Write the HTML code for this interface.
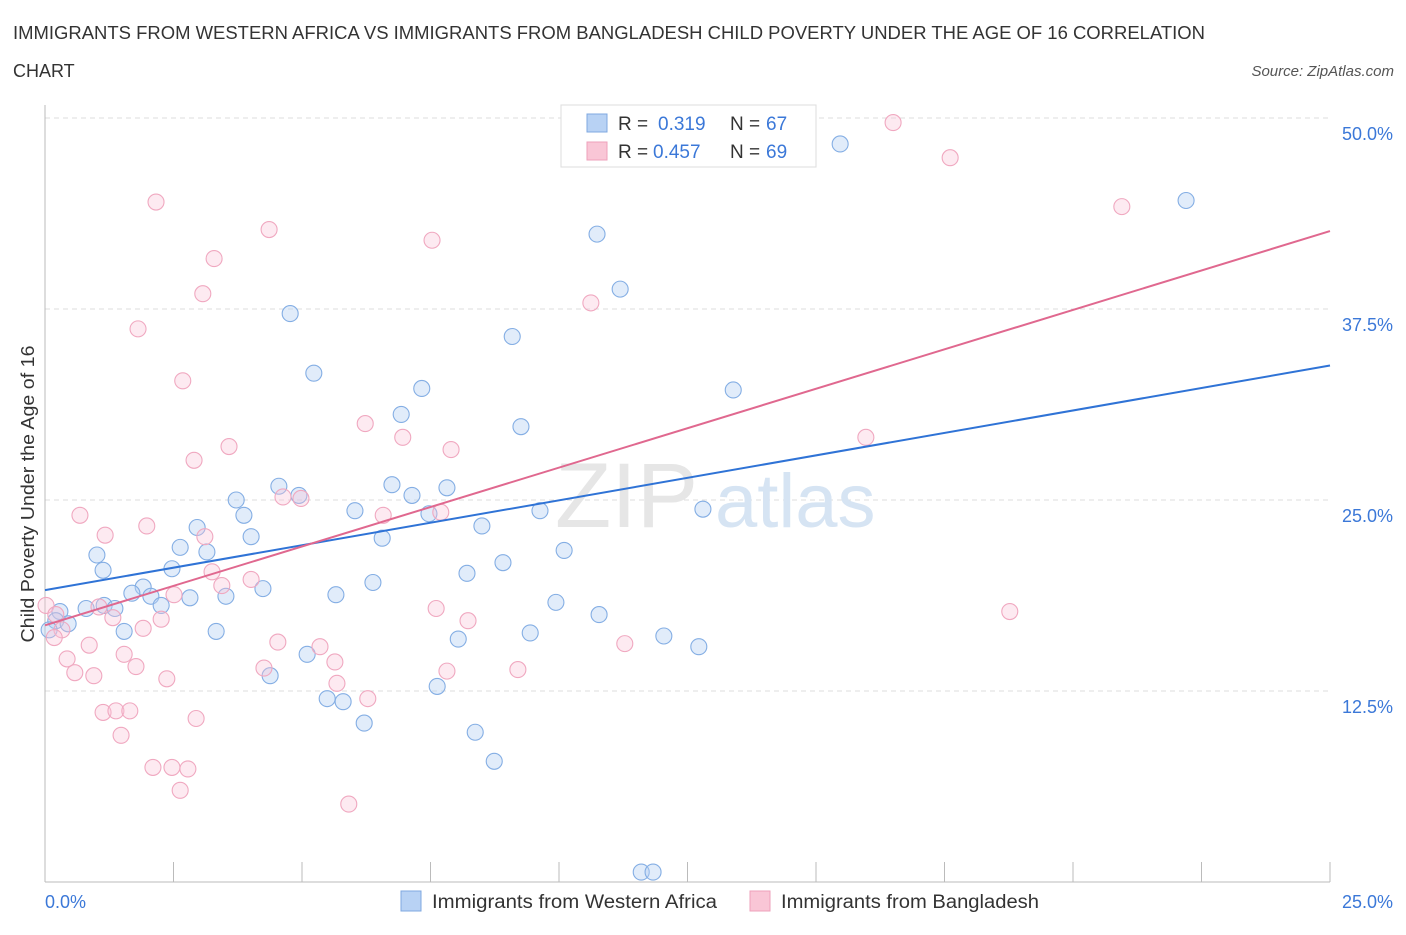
<!DOCTYPE html>
<html><head><meta charset="utf-8"><style>
body{margin:0;background:#fff;font-family:"Liberation Sans",sans-serif;}
svg text{font-family:"Liberation Sans",sans-serif;}
</style></head><body>
<svg id="chart" width="1406" height="930" viewBox="0 0 1406 930">
<text x="13" y="39" font-size="18" fill="#333" textLength="1192" lengthAdjust="spacingAndGlyphs">IMMIGRANTS FROM WESTERN AFRICA VS IMMIGRANTS FROM BANGLADESH CHILD POVERTY UNDER THE AGE OF 16 CORRELATION</text>
<text x="13" y="77" font-size="18" fill="#333">CHART</text>
<text x="1394" y="76" font-size="15" fill="#555" font-style="italic" text-anchor="end">Source: ZipAtlas.com</text>
<g id="grid"></g>
<g>
<text x="555" y="527" font-size="92" fill="#e6e6e6" font-family="Liberation Serif">ZIP</text>
<text x="715" y="527" font-size="76" fill="#d6e4f3">atlas</text>
</g>
<g id="axes"></g>
<g id="points"></g>
<g id="trends"></g>
<text x="34" y="494" font-size="18" fill="#333" text-anchor="middle" textLength="297" lengthAdjust="spacingAndGlyphs" transform="rotate(-90 34 494)">Child Poverty Under the Age of 16</text>
<g>
<rect x="561" y="105" width="255" height="62" fill="#fff" stroke="#ddd"/>
<rect x="587" y="114" width="20" height="18" fill="#b8d2f4" stroke="#7fa8e0"/>
<text font-size="19" y="130"><tspan x="618" fill="#333">R =</tspan><tspan x="658" fill="#3b78d8">0.319</tspan><tspan x="730" fill="#333">N =</tspan><tspan x="766" fill="#3b78d8">67</tspan></text>
<rect x="587" y="142" width="20" height="18" fill="#f9c6d6" stroke="#eea0bb"/>
<text font-size="19" y="158"><tspan x="618" fill="#333">R =</tspan><tspan x="653" fill="#3b78d8">0.457</tspan><tspan x="730" fill="#333">N =</tspan><tspan x="766" fill="#3b78d8">69</tspan></text>
</g>
<g>
<rect x="401" y="891" width="20" height="20" fill="#b8d2f4" stroke="#7fa8e0"/>
<text x="432" y="908" font-size="19" fill="#333" textLength="285" lengthAdjust="spacingAndGlyphs">Immigrants from Western Africa</text>
<rect x="750" y="891" width="20" height="20" fill="#f9c6d6" stroke="#eea0bb"/>
<text x="781" y="908" font-size="19" fill="#333" textLength="258" lengthAdjust="spacingAndGlyphs">Immigrants from Bangladesh</text>
</g>
</svg>
<script>
const xTicks=[0,2.5,5,7.5,10,12.5,15,17.5,20,22.5,25];
const yTickVals=[12.5,25,37.5,50];
const yTickLabels=["12.5%","25.0%","37.5%","50.0%"];
const blueX=[15.47,22.2,10.74,11.19,4.77,9.09,5.23,7.33,13.39,6.93,9.26,4.55,6.75,7.82,4.94,7.14,3.72,3.87,6.03,7.47,12.80,9.63,2.96,8.50,4.01,6.56,2.63,3.15,1.01,8.91,10.10,1.13,2.47,8.21,6.38,4.24,1.91,1.69,2.06,3.52,2.82,5.66,2.26,1.15,0.80,1.36,9.94,10.78,0.29,0.21,0.45,0.08,1.54,3.33,8.04,9.44,12.04,12.72,5.10,4.38,7.63,5.49,5.80,6.21,8.37,8.74,11.60,11.83];
const blueY=[48.3,44.6,42.4,38.8,37.2,35.7,33.3,32.3,32.2,30.6,29.8,25.9,26.0,25.8,25.3,25.3,25.0,24.0,24.3,24.1,24.4,24.3,23.2,23.3,22.6,22.5,21.9,21.6,21.4,20.9,21.7,20.4,20.5,20.2,19.6,19.2,19.3,18.9,18.7,18.7,18.6,18.8,18.1,18.1,17.9,17.9,18.3,17.5,17.7,17.1,16.9,16.5,16.4,16.4,15.9,16.3,16.1,15.4,14.9,13.5,12.8,12.0,11.8,10.4,9.8,7.9,0.65,0.65];
const pinkX=[16.50,17.61,2.16,20.95,4.36,7.53,3.29,3.07,10.62,1.81,2.68,6.23,6.96,15.97,7.90,3.58,2.90,0.68,4.63,4.98,7.70,6.58,1.98,1.17,3.11,3.25,3.44,4.01,2.51,0.02,0.21,1.05,1.32,7.61,2.26,8.23,18.77,0.86,1.91,0.33,0.18,4.53,5.35,11.28,1.54,0.43,5.64,1.77,4.26,0.58,0.95,7.82,9.20,2.37,5.68,6.28,1.13,1.38,1.65,2.94,1.48,2.10,2.47,2.78,2.63,5.91];
const pinkY=[49.7,47.4,44.5,44.2,42.7,42.0,40.8,38.5,37.9,36.2,32.8,30.0,29.1,29.1,28.3,28.5,27.6,24.0,25.2,25.1,24.2,24.0,23.3,22.7,22.6,20.3,19.4,19.8,18.8,18.1,17.5,18.0,17.3,17.9,17.2,17.1,17.7,15.5,16.6,16.5,16.0,15.7,15.4,15.6,14.9,14.6,14.4,14.1,14.0,13.7,13.5,13.8,13.9,13.3,13.0,12.0,11.1,11.2,11.2,10.7,9.6,7.5,7.5,7.4,6.0,5.1];
const blueTrend=[19.1,33.8];
const pinkTrend=[16.8,42.6];
const trendX=[0,25];
const X0=45,X1=1330,Y0=882,Ytop=118;
const sx=v=>X0+v/25*(X1-X0);
const sy=v=>Y0-v/50*(Y0-Ytop);
const NS="http://www.w3.org/2000/svg";
function mk(tag,attrs,parent){const e=document.createElementNS(NS,tag);for(const k in attrs)e.setAttribute(k,attrs[k]);parent.appendChild(e);return e;}
const grid=document.getElementById('grid'),axes=document.getElementById('axes'),pts=document.getElementById('points'),tr=document.getElementById('trends');
yTickVals.forEach((v,i)=>{
  const l=mk('line',{x1:X0,x2:X1,y1:sy(v),y2:sy(v),stroke:'#ddd','stroke-dasharray':'5,4'},grid);
  
  
  const t=mk('text',{x:1393,y:sy(v)+22,'font-size':18,fill:'#3b78d8','text-anchor':'end'},axes);
  t.textContent=yTickLabels[i];
  
  
});
const ya=mk('line',{x1:X0,x2:X0,y1:105,y2:Y0,stroke:'#bbb'},axes);


const xa=mk('line',{x1:X0,x2:X1,y1:Y0,y2:Y0,stroke:'#bbb'},axes);


xTicks.forEach(v=>{
  const t=mk('line',{x1:sx(v),x2:sx(v),y1:Y0-20,y2:Y0,stroke:'#bbb'},axes);
  
  
});
const xl0=mk('text',{x:45,y:908,'font-size':18,fill:'#3b78d8'},axes);xl0.textContent='0.0%';


const xl1=mk('text',{x:1393,y:908,'font-size':18,fill:'#3b78d8','text-anchor':'end'},axes);xl1.textContent='25.0%';


blueX.forEach((v,i)=>{
  const c=mk('circle',{cx:sx(v),cy:sy(blueY[i]),r:8,fill:'rgba(180,208,242,0.4)',stroke:'#84aee4','stroke-width':1.1},pts);
  
  
});
pinkX.forEach((v,i)=>{
  const c=mk('circle',{cx:sx(v),cy:sy(pinkY[i]),r:8,fill:'rgba(248,196,214,0.35)',stroke:'#f0a8c0','stroke-width':1.1},pts);
  
  
});
const bl=mk('line',{x1:sx(trendX[0]),y1:sy(blueTrend[0]),x2:sx(trendX[1]),y2:sy(blueTrend[1]),stroke:'#2f73d6','stroke-width':2},tr);


const pl=mk('line',{x1:sx(trendX[0]),y1:sy(pinkTrend[0]),x2:sx(trendX[1]),y2:sy(pinkTrend[1]),stroke:'#e0688f','stroke-width':2},tr);


</script>
</body></html>
